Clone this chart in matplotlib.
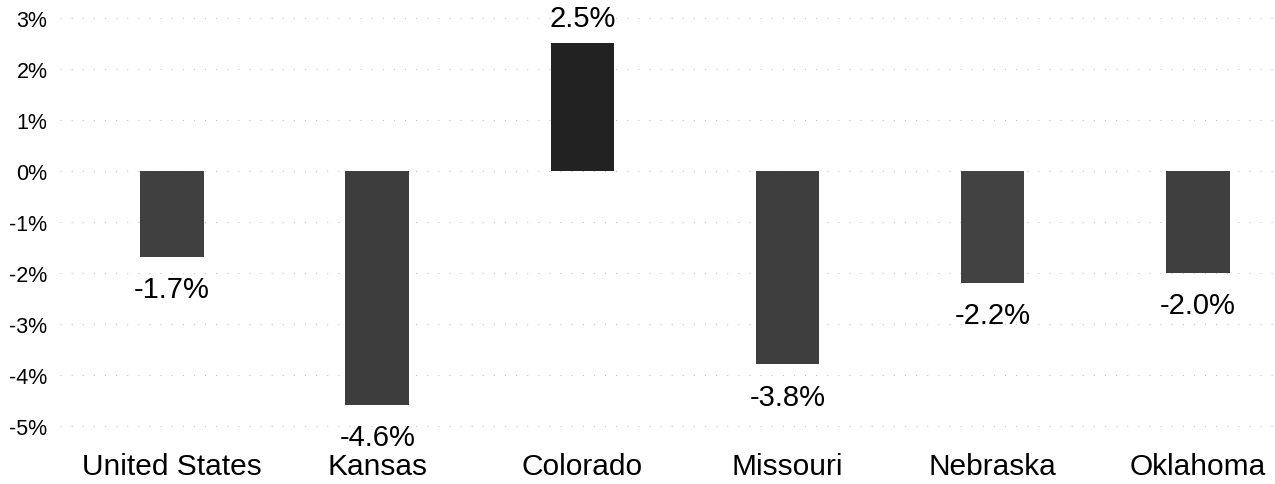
import matplotlib
matplotlib.use("Agg")
import matplotlib.pyplot as plt
import numpy as np

regions = ["United States", "Kansas", "Colorado", "Missouri", "Nebraska", "Oklahoma"]
change = [-1.7, -4.6, 2.5, -3.8, -2.2, -2.0]
bar_colors = ["#404040", "#3d3d3d", "#222222", "#3e3e3e", "#424242", "#3f3f3f"]
yticks = [3, 2, 1, 0, -1, -2, -3, -4, -5]

plt.rcParams["font.family"] = ["Liberation Sans", "DejaVu Sans"]

fig = plt.figure(figsize=(12.75, 4.85), dpi=100)
ax = fig.add_axes([60 / 1275, 38 / 485, 1215 / 1275, 447 / 485])

x = np.arange(len(regions))
ax.bar(x, change, width=0.31, color=bar_colors, zorder=2)

# value labels above positive bars, below negative ones
for xi, v in zip(x, change):
    if v >= 0:
        ax.annotate(f"{v:.1f}%", (xi, v), xytext=(0, 8), textcoords="offset points",
                    ha="center", va="bottom", fontsize=21)
    else:
        ax.annotate(f"{v:.1f}%", (xi, v), xytext=(0, -13), textcoords="offset points",
                    ha="center", va="top", fontsize=21)

ax.set_xlim(-0.546, 5.376)
ax.set_ylim(-5.4, 3.37)
ax.set_yticks(yticks)
ax.set_yticklabels([f"{t}%" for t in yticks])
ax.set_xticks(x)
ax.set_xticklabels(regions)
ax.tick_params(axis="y", length=0, pad=9, labelsize=15.5)
ax.tick_params(axis="x", length=0, pad=4, labelsize=21.5)

ax.yaxis.grid(True, color="#c4c4c4", linestyle=(0, (1, 9)), linewidth=0.8, zorder=0)
for s in ax.spines.values():
    s.set_visible(False)

fig.savefig("out.png", dpi=100)
